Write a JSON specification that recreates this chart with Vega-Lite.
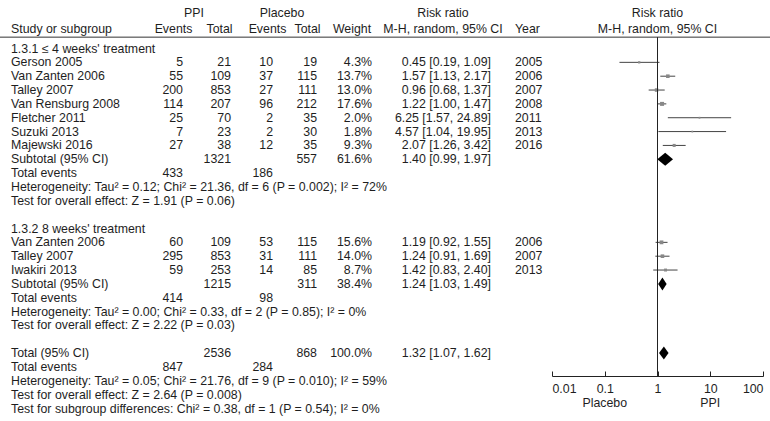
{
  "$schema": "https://vega.github.io/schema/vega-lite/v6.json",
  "width": 770,
  "height": 376,
  "padding": {"left": 0, "right": 0, "top": 0, "bottom": 45},
  "autosize": {"type": "none"},
  "background": "white",
  "config": {
    "view": {"stroke": null},
    "font": "Liberation Sans",
    "text": {"font": "Liberation Sans", "fontSize": 12.35, "color": "#1e1e1e"},
    "axis": {"labelFont": "Liberation Sans", "labelFontSize": 12.35, "labelColor": "#1e1e1e", "grid": false}
  },
  "datasets": {
    "rows": [
      {"row": 0, "label": "1.3.1 ≤ 4 weeks' treatment", "kind": "heading"},
      {"row": 1, "label": "Gerson 2005", "ppi_e": 5, "ppi_t": 21, "pl_e": 10, "pl_t": 19, "weight": 0.043, "rr": 0.45, "lo": 0.19, "hi": 1.09, "year": 2005, "kind": "study"},
      {"row": 2, "label": "Van Zanten 2006", "ppi_e": 55, "ppi_t": 109, "pl_e": 37, "pl_t": 115, "weight": 0.137, "rr": 1.57, "lo": 1.13, "hi": 2.17, "year": 2006, "kind": "study"},
      {"row": 3, "label": "Talley 2007", "ppi_e": 200, "ppi_t": 853, "pl_e": 27, "pl_t": 111, "weight": 0.130, "rr": 0.96, "lo": 0.68, "hi": 1.37, "year": 2007, "kind": "study"},
      {"row": 4, "label": "Van Rensburg 2008", "ppi_e": 114, "ppi_t": 207, "pl_e": 96, "pl_t": 212, "weight": 0.176, "rr": 1.22, "lo": 1.00, "hi": 1.47, "year": 2008, "kind": "study"},
      {"row": 5, "label": "Fletcher 2011", "ppi_e": 25, "ppi_t": 70, "pl_e": 2, "pl_t": 35, "weight": 0.020, "rr": 6.25, "lo": 1.57, "hi": 24.89, "year": 2011, "kind": "study"},
      {"row": 6, "label": "Suzuki 2013", "ppi_e": 7, "ppi_t": 23, "pl_e": 2, "pl_t": 30, "weight": 0.018, "rr": 4.57, "lo": 1.04, "hi": 19.95, "year": 2013, "kind": "study"},
      {"row": 7, "label": "Majewski 2016", "ppi_e": 27, "ppi_t": 38, "pl_e": 12, "pl_t": 35, "weight": 0.093, "rr": 2.07, "lo": 1.26, "hi": 3.42, "year": 2016, "kind": "study"},
      {"row": 8, "label": "Subtotal (95% CI)", "ppi_t": 1321, "pl_t": 557, "weight": 0.616, "rr": 1.40, "lo": 0.99, "hi": 1.97, "kind": "subtotal"},
      {"row": 9, "label": "Total events", "ppi_e": 433, "pl_e": 186, "kind": "events"},
      {"row": 10, "label": "Heterogeneity: Tau² = 0.12; Chi² = 21.36, df = 6 (P = 0.002); I² = 72%", "kind": "note"},
      {"row": 11, "label": "Test for overall effect: Z = 1.91 (P = 0.06)", "kind": "note"},
      {"row": 13, "label": "1.3.2 8 weeks' treatment", "kind": "heading"},
      {"row": 14, "label": "Van Zanten 2006", "ppi_e": 60, "ppi_t": 109, "pl_e": 53, "pl_t": 115, "weight": 0.156, "rr": 1.19, "lo": 0.92, "hi": 1.55, "year": 2006, "kind": "study"},
      {"row": 15, "label": "Talley 2007", "ppi_e": 295, "ppi_t": 853, "pl_e": 31, "pl_t": 111, "weight": 0.140, "rr": 1.24, "lo": 0.91, "hi": 1.69, "year": 2007, "kind": "study"},
      {"row": 16, "label": "Iwakiri 2013", "ppi_e": 59, "ppi_t": 253, "pl_e": 14, "pl_t": 85, "weight": 0.087, "rr": 1.42, "lo": 0.83, "hi": 2.40, "year": 2013, "kind": "study"},
      {"row": 17, "label": "Subtotal (95% CI)", "ppi_t": 1215, "pl_t": 311, "weight": 0.384, "rr": 1.24, "lo": 1.03, "hi": 1.49, "kind": "subtotal"},
      {"row": 18, "label": "Total events", "ppi_e": 414, "pl_e": 98, "kind": "events"},
      {"row": 19, "label": "Heterogeneity: Tau² = 0.00; Chi² = 0.33, df = 2 (P = 0.85); I² = 0%", "kind": "note"},
      {"row": 20, "label": "Test for overall effect: Z = 2.22 (P = 0.03)", "kind": "note"},
      {"row": 22, "label": "Total (95% CI)", "ppi_t": 2536, "pl_t": 868, "weight": 1.0, "rr": 1.32, "lo": 1.07, "hi": 1.62, "kind": "total"},
      {"row": 23, "label": "Total events", "ppi_e": 847, "pl_e": 284, "kind": "events"},
      {"row": 24, "label": "Heterogeneity: Tau² = 0.05; Chi² = 21.76, df = 9 (P = 0.010); I² = 59%", "kind": "note"},
      {"row": 25, "label": "Test for overall effect: Z = 2.64 (P = 0.008)", "kind": "note"},
      {"row": 26, "label": "Test for subgroup differences: Chi² = 0.38, df = 1 (P = 0.54); I² = 0%", "kind": "note"}
    ],
    "sides": [
      {"label": "Placebo", "at": 0.1},
      {"label": "PPI", "at": 10}
    ]
  },
  "layer": [
    {
      "data": {"name": "rows"},
      "layer": [
        {
          "mark": {"type": "text", "align": "left", "baseline": "middle"},
          "encoding": {
            "x": {"datum": 11, "type": "quantitative", "scale": {"domain": [0, 770], "range": [0, 770], "nice": false, "zero": false}, "axis": null},
            "y": {"field": "row", "type": "quantitative", "scale": {"domain": [0, 26], "range": [48.5, 408.5], "nice": false, "zero": false}, "axis": null},
            "text": {"field": "label", "type": "nominal"}
          }
        },
        {
          "transform": [{"filter": "isValid(datum.ppi_e)"}],
          "mark": {"type": "text", "align": "right", "baseline": "middle"},
          "encoding": {
            "x": {"datum": 183, "type": "quantitative", "axis": null},
            "y": {"field": "row", "type": "quantitative", "axis": null},
            "text": {"field": "ppi_e", "type": "nominal"}
          }
        },
        {
          "transform": [{"filter": "isValid(datum.ppi_t)"}],
          "mark": {"type": "text", "align": "right", "baseline": "middle"},
          "encoding": {
            "x": {"datum": 231, "type": "quantitative", "axis": null},
            "y": {"field": "row", "type": "quantitative", "axis": null},
            "text": {"field": "ppi_t", "type": "nominal"}
          }
        },
        {
          "transform": [{"filter": "isValid(datum.pl_e)"}],
          "mark": {"type": "text", "align": "right", "baseline": "middle"},
          "encoding": {
            "x": {"datum": 273, "type": "quantitative", "axis": null},
            "y": {"field": "row", "type": "quantitative", "axis": null},
            "text": {"field": "pl_e", "type": "nominal"}
          }
        },
        {
          "transform": [{"filter": "isValid(datum.pl_t)"}],
          "mark": {"type": "text", "align": "right", "baseline": "middle"},
          "encoding": {
            "x": {"datum": 317, "type": "quantitative", "axis": null},
            "y": {"field": "row", "type": "quantitative", "axis": null},
            "text": {"field": "pl_t", "type": "nominal"}
          }
        },
        {
          "transform": [{"filter": "isValid(datum.weight)"}],
          "mark": {"type": "text", "align": "right", "baseline": "middle"},
          "encoding": {
            "x": {"datum": 372, "type": "quantitative", "axis": null},
            "y": {"field": "row", "type": "quantitative", "axis": null},
            "text": {"field": "weight", "type": "quantitative", "format": ".1%"}
          }
        },
        {
          "transform": [{"filter": "isValid(datum.rr)"}],
          "mark": {"type": "text", "align": "right", "baseline": "middle", "text": {"expr": "format(datum.rr, '.2f') + ' [' + format(datum.lo, '.2f') + ', ' + format(datum.hi, '.2f') + ']'"}},
          "encoding": {
            "x": {"datum": 491, "type": "quantitative", "axis": null},
            "y": {"field": "row", "type": "quantitative", "axis": null}
          }
        },
        {
          "transform": [{"filter": "isValid(datum.year)"}],
          "mark": {"type": "text", "align": "left", "baseline": "middle"},
          "encoding": {
            "x": {"datum": 515, "type": "quantitative", "axis": null},
            "y": {"field": "row", "type": "quantitative", "axis": null},
            "text": {"field": "year", "type": "nominal"}
          }
        },
        {
          "data": {"values": [{"h": "PPI"}]},
          "mark": {"type": "text", "align": "center", "baseline": "middle"},
          "encoding": {"x": {"datum": 194, "type": "quantitative", "axis": null}, "y": {"datum": -2.55, "type": "quantitative", "axis": null}, "text": {"field": "h", "type": "nominal"}}
        },
        {
          "data": {"values": [{"h": "Placebo"}]},
          "mark": {"type": "text", "align": "center", "baseline": "middle"},
          "encoding": {"x": {"datum": 282, "type": "quantitative", "axis": null}, "y": {"datum": -2.55, "type": "quantitative", "axis": null}, "text": {"field": "h", "type": "nominal"}}
        },
        {
          "data": {"values": [{"h": "Risk ratio"}]},
          "mark": {"type": "text", "align": "center", "baseline": "middle"},
          "encoding": {"x": {"datum": 443, "type": "quantitative", "axis": null}, "y": {"datum": -2.55, "type": "quantitative", "axis": null}, "text": {"field": "h", "type": "nominal"}}
        },
        {
          "data": {"values": [{"h": "Study or subgroup"}]},
          "mark": {"type": "text", "align": "left", "baseline": "middle"},
          "encoding": {"x": {"datum": 11, "type": "quantitative", "axis": null}, "y": {"datum": -1.44, "type": "quantitative", "axis": null}, "text": {"field": "h", "type": "nominal"}}
        },
        {
          "data": {"values": [{"h": "Events"}]},
          "mark": {"type": "text", "align": "center", "baseline": "middle"},
          "encoding": {"x": {"datum": 173.5, "type": "quantitative", "axis": null}, "y": {"datum": -1.44, "type": "quantitative", "axis": null}, "text": {"field": "h", "type": "nominal"}}
        },
        {
          "data": {"values": [{"h": "Total"}]},
          "mark": {"type": "text", "align": "center", "baseline": "middle"},
          "encoding": {"x": {"datum": 219.5, "type": "quantitative", "axis": null}, "y": {"datum": -1.44, "type": "quantitative", "axis": null}, "text": {"field": "h", "type": "nominal"}}
        },
        {
          "data": {"values": [{"h": "Events"}]},
          "mark": {"type": "text", "align": "center", "baseline": "middle"},
          "encoding": {"x": {"datum": 267.5, "type": "quantitative", "axis": null}, "y": {"datum": -1.44, "type": "quantitative", "axis": null}, "text": {"field": "h", "type": "nominal"}}
        },
        {
          "data": {"values": [{"h": "Total"}]},
          "mark": {"type": "text", "align": "center", "baseline": "middle"},
          "encoding": {"x": {"datum": 307.5, "type": "quantitative", "axis": null}, "y": {"datum": -1.44, "type": "quantitative", "axis": null}, "text": {"field": "h", "type": "nominal"}}
        },
        {
          "data": {"values": [{"h": "Weight"}]},
          "mark": {"type": "text", "align": "center", "baseline": "middle"},
          "encoding": {"x": {"datum": 352, "type": "quantitative", "axis": null}, "y": {"datum": -1.44, "type": "quantitative", "axis": null}, "text": {"field": "h", "type": "nominal"}}
        },
        {
          "data": {"values": [{"h": "M-H, random, 95% CI"}]},
          "mark": {"type": "text", "align": "center", "baseline": "middle"},
          "encoding": {"x": {"datum": 443, "type": "quantitative", "axis": null}, "y": {"datum": -1.44, "type": "quantitative", "axis": null}, "text": {"field": "h", "type": "nominal"}}
        },
        {
          "data": {"values": [{"h": "Year"}]},
          "mark": {"type": "text", "align": "left", "baseline": "middle"},
          "encoding": {"x": {"datum": 515, "type": "quantitative", "axis": null}, "y": {"datum": -1.44, "type": "quantitative", "axis": null}, "text": {"field": "h", "type": "nominal"}}
        },
        {
          "data": {"values": [{}]},
          "mark": {"type": "rule", "color": "#333", "strokeWidth": 1},
          "encoding": {"x": {"datum": 0, "type": "quantitative", "axis": null}, "x2": {"datum": 770}, "y": {"datum": -0.82, "type": "quantitative", "axis": null}}
        }
      ]
    },
    {
      "data": {"name": "rows"},
      "layer": [
        {
          "transform": [{"filter": "datum.kind === 'study'"}],
          "mark": {"type": "rule", "color": "#444", "strokeWidth": 1},
          "encoding": {
            "x": {"field": "lo", "type": "quantitative", "scale": {"type": "log", "domain": [0.01, 100], "range": [552, 763], "nice": false},
              "axis": {"orient": "bottom", "values": [0.01, 0.1, 1, 10, 100], "format": "~g", "title": null, "domainColor": "#222", "tickColor": "#222", "tickSize": -5, "labelPadding": 11, "labelFlush": true, "labelOverlap": false}},
            "x2": {"field": "hi"},
            "y": {"field": "row", "type": "quantitative", "axis": null}
          }
        },
        {
          "transform": [{"filter": "datum.kind === 'study'"}],
          "mark": {"type": "point", "shape": "square", "filled": true, "color": "#888", "opacity": 1},
          "encoding": {
            "x": {"field": "rr", "type": "quantitative"},
            "y": {"field": "row", "type": "quantitative", "axis": null},
            "size": {"field": "weight", "type": "quantitative", "scale": {"domain": [0.018, 0.176], "range": [3, 16]}, "legend": null}
          }
        },
        {
          "transform": [
            {"filter": "datum.kind === 'subtotal' || datum.kind === 'total'"},
            {"fold": ["lo", "rr", "hi"], "as": ["k", "v"]}
          ],
          "mark": {"type": "area", "color": "#000", "opacity": 1, "orient": "vertical", "yOffset": {"expr": "datum.k === 'rr' ? -6.5 : 0"}, "y2Offset": {"expr": "datum.k === 'rr' ? 6.5 : 0"}},
          "encoding": {
            "x": {"field": "v", "type": "quantitative"},
            "y": {"field": "row", "type": "quantitative", "axis": null},
            "y2": {"field": "row"},
            "detail": {"field": "row", "type": "nominal"}
          }
        },
        {
          "data": {"values": [{}]},
          "mark": {"type": "rule", "color": "#222", "strokeWidth": 1},
          "encoding": {"x": {"datum": 1, "type": "quantitative"}, "y": {"datum": -0.82, "type": "quantitative", "axis": null}, "y2": {"datum": 23.65}}
        },
        {
          "data": {"values": [{"h": "Risk ratio"}]},
          "mark": {"type": "text", "align": "center", "baseline": "middle"},
          "encoding": {"x": {"datum": 1, "type": "quantitative"}, "y": {"datum": -2.55, "type": "quantitative", "axis": null}, "text": {"field": "h", "type": "nominal"}}
        },
        {
          "data": {"values": [{"h": "M-H, random, 95% CI"}]},
          "mark": {"type": "text", "align": "center", "baseline": "middle"},
          "encoding": {"x": {"datum": 1, "type": "quantitative"}, "y": {"datum": -1.44, "type": "quantitative", "axis": null}, "text": {"field": "h", "type": "nominal"}}
        },
        {
          "data": {"name": "sides"},
          "mark": {"type": "text", "align": "center", "baseline": "middle"},
          "encoding": {"x": {"field": "at", "type": "quantitative"}, "y": {"datum": 25.6, "type": "quantitative", "axis": null}, "text": {"field": "label", "type": "nominal"}}
        }
      ]
    }
  ],
  "resolve": {"scale": {"x": "independent"}, "axis": {"x": "independent"}}
}
